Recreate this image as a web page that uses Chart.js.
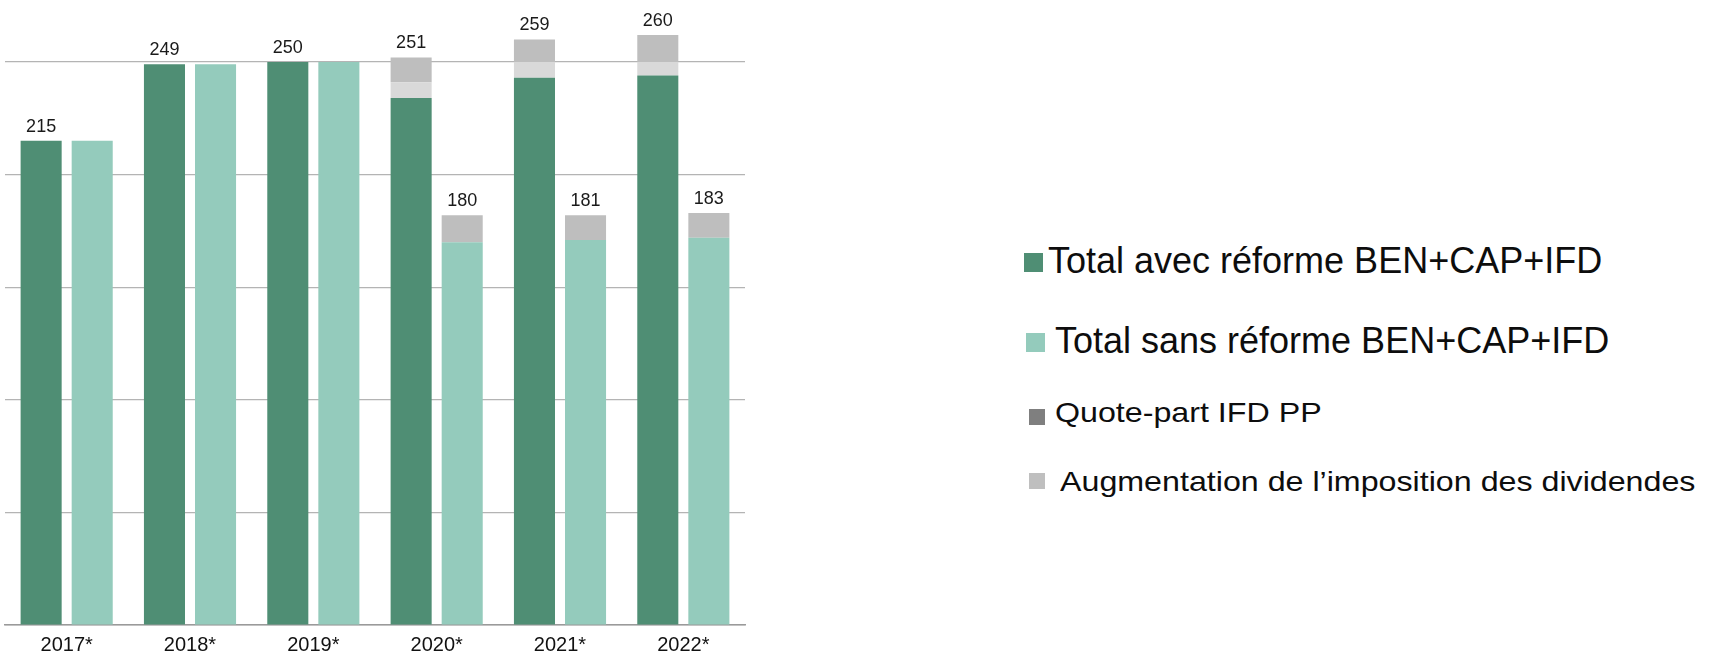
<!DOCTYPE html>
<html>
<head>
<meta charset="utf-8">
<script src="https://cdn.jsdelivr.net/npm/chart.js"></script>
<style>
  body { margin: 0; background: #fff; font-family: "Liberation Sans", Arial, sans-serif; }
  #wrap { position: relative; width: 1715px; height: 656px; overflow: hidden; }
  #chart { position: absolute; left: 0; top: 0; }
  .sw { position: absolute; }
  .lt { position: absolute; color: #0d0d0d; white-space: nowrap; }
  .big { font-size: 36px; line-height: 36px; }
  .small { font-size: 28px; line-height: 28px; transform: scaleX(1.15); transform-origin: left center; }
</style>
</head>
<body>
<div id="wrap">
  <canvas id="chart" width="760" height="656"></canvas>
  <div id="legend"></div>
</div>
<script>
const years = ["2017*", "2018*", "2019*", "2020*", "2021*", "2022*"];

// bar segments
const avecReforme = [215, 249, 250, 234, 243, 244];
const sansReforme = [215, 249, 250, 170, 171, 172];
const quotePartIFD = [0, 0, 0, 7, 7, 6];
const augDividendesAvec = [0, 0, 0, 11, 10, 12];
const augDividendesSans = [0, 0, 0, 12, 11, 11];

// totals printed on top of the stacks
const labelsAvec = [215, 249, 250, 251, 259, 260];
const labelsSans = [null, null, null, 180, 181, 183];

const seriesNames = [
  "Total avec réforme BEN+CAP+IFD",
  "Total sans réforme BEN+CAP+IFD",
  "Quote-part IFD PP",
  "Augmentation de l\u2019imposition des dividendes"
];

const darkGreen = "#4f8e74";
const lightGreen = "#94cbbc";

const totalsPlugin = {
  id: "totals",
  afterDatasetsDraw(chart) {
    const ctx = chart.ctx;
    ctx.save();
    ctx.font = '18px "Liberation Sans", Arial, sans-serif';
    ctx.fillStyle = "#1a1a1a";
    ctx.textAlign = "center";
    ctx.textBaseline = "alphabetic";
    const metaA = chart.getDatasetMeta(3);
    const metaS = chart.getDatasetMeta(4);
    years.forEach((y, i) => {
      if (labelsAvec[i] != null) {
        const el = metaA.data[i];
        ctx.fillText(String(labelsAvec[i]), el.x, el.y - 9);
      }
      if (labelsSans[i] != null) {
        const el = metaS.data[i];
        ctx.fillText(String(labelsSans[i]), el.x, el.y - 9);
      }
    });
    ctx.restore();
  }
};

const ctx = document.getElementById("chart").getContext("2d");
new Chart(ctx, {
  type: "bar",
  data: {
    labels: years,
    datasets: [
      { label: seriesNames[0], data: avecReforme, stack: "a", backgroundColor: darkGreen },
      { label: seriesNames[1], data: sansReforme, stack: "s", backgroundColor: lightGreen },
      { label: seriesNames[2], data: quotePartIFD, stack: "a", backgroundColor: "#d9d9d9" },
      { label: seriesNames[3], data: augDividendesAvec, stack: "a", backgroundColor: "#bebebe" },
      { label: seriesNames[3], data: augDividendesSans, stack: "s", backgroundColor: "#bebebe" }
    ]
  },
  options: {
    responsive: false,
    animation: false,
    events: [],
    layout: { padding: { left: 5, right: 15, top: 62, bottom: 0 } },
    datasets: {
      bar: { categoryPercentage: 0.828, barPercentage: 0.804, clip: false, borderWidth: 0 }
    },
    scales: {
      x: {
        stacked: true,
        grid: { display: false, drawTicks: false },
        border: { display: true, color: "#9a9a9a", width: 1.5 },
        afterFit: scale => { scale.height = 31; },
        ticks: {
          color: "#111",
          padding: 8,
          font: { family: '"Liberation Sans", Arial, sans-serif', size: 20 }
        }
      },
      y: {
        stacked: true,
        min: 0,
        max: 250,
        ticks: { display: false, stepSize: 50 },
        grid: { color: "#b4b4b4", lineWidth: 1.2, drawTicks: false },
        border: { display: false }
      }
    },
    plugins: {
      legend: { display: false },
      tooltip: { enabled: false }
    }
  },
  plugins: [totalsPlugin]
});

// legend on the right, built from the series names
const legendItems = [
  { name: seriesNames[0], color: darkGreen, sq: [1024, 253, 19], text: [1048, 243], cls: "big" },
  { name: seriesNames[1], color: lightGreen, sq: [1026, 333, 19], text: [1055, 323], cls: "big" },
  { name: seriesNames[2], color: "#7f7f7f", sq: [1029, 409, 16], text: [1055, 399], cls: "small" },
  { name: seriesNames[3], color: "#bfbfbf", sq: [1029, 473, 16], text: [1060, 468], cls: "small" }
];
const legend = document.getElementById("legend");
legendItems.forEach(it => {
  const s = document.createElement("div");
  s.className = "sw";
  s.style.left = it.sq[0] + "px";
  s.style.top = it.sq[1] + "px";
  s.style.width = it.sq[2] + "px";
  s.style.height = it.sq[2] + "px";
  s.style.background = it.color;
  legend.appendChild(s);
  const t = document.createElement("div");
  t.className = "lt " + it.cls;
  t.style.left = it.text[0] + "px";
  t.style.top = it.text[1] + "px";
  t.textContent = it.name;
  legend.appendChild(t);
});
</script>
</body>
</html>
